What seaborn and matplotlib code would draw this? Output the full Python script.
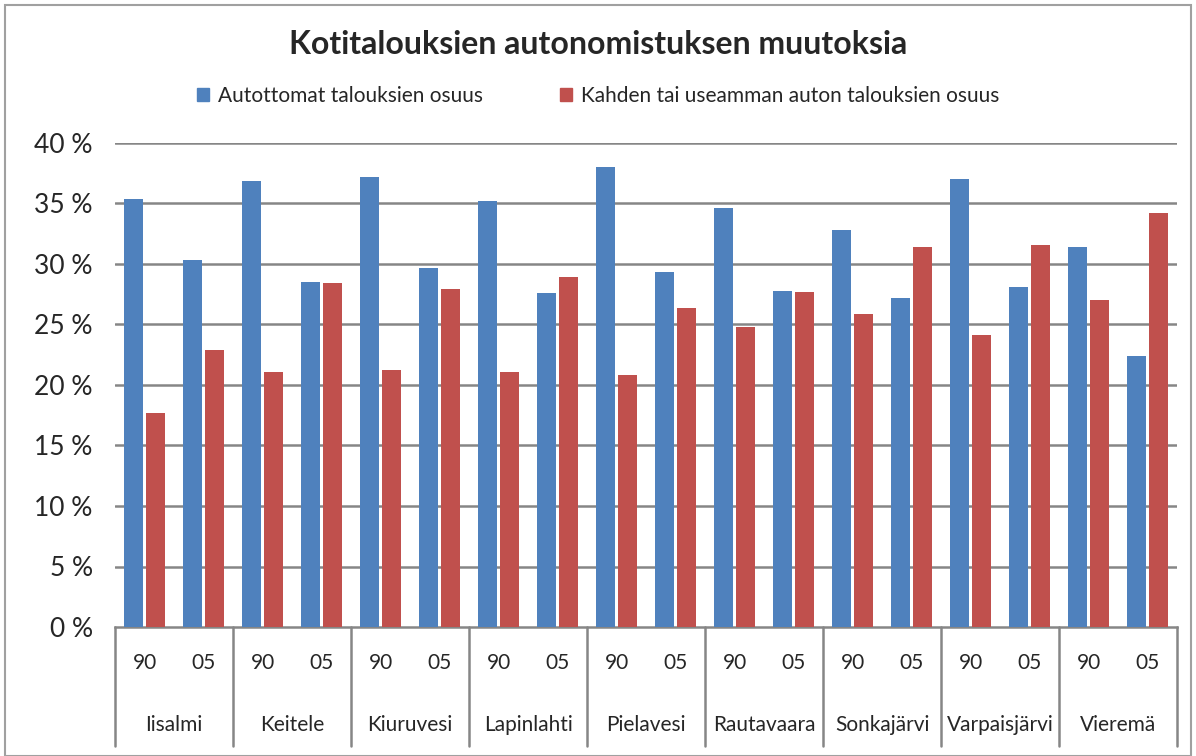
import matplotlib
matplotlib.use('Agg')
import matplotlib.pyplot as plt
import matplotlib.patches as mpatches
import seaborn as sns
import pandas as pd
import numpy as np

# data
kunnat = ['Iisalmi', 'Keitele', 'Kiuruvesi', 'Lapinlahti', 'Pielavesi',
          'Rautavaara', 'Sonkajärvi', 'Varpaisjärvi', 'Vieremä']
vuodet = ['90', '05']
series_names = ['Autottomat talouksien osuus',
                'Kahden tai useamman auton talouksien osuus']
# per municipality: [90, 05]
autottomat = [35.4, 30.3, 36.9, 28.5, 37.2, 29.7, 35.2, 27.6, 38.0,
              29.3, 34.6, 27.8, 32.8, 27.2, 37.0, 28.1, 31.4, 22.4]
kaksi_autoa = [17.7, 22.9, 21.1, 28.4, 21.2, 27.9, 21.1, 28.9, 20.8,
               26.4, 24.8, 27.7, 25.9, 31.4, 24.1, 31.6, 27.0, 34.2]
y_ticks = [0, 5, 10, 15, 20, 25, 30, 35, 40]

BLUE = '#4F81BD'
RED = '#C0504D'
GRID = '#868686'

sns.set_style('white')
plt.rcParams['font.family'] = ['Lato', 'DejaVu Sans']

positions = [f'{k} {v}' for k in kunnat for v in vuodet]
df = pd.DataFrame({
    'pos': positions * 2,
    'series': [series_names[0]] * len(positions) + [series_names[1]] * len(positions),
    'value': autottomat + kaksi_autoa,
})

W, H = 1196, 756
fig = plt.figure(figsize=(W / 100, H / 100), dpi=100)
left, right, top, bottom = 115, 1177, 143, 627
ax = fig.add_axes([left / W, (H - bottom) / H, (right - left) / W, (bottom - top) / H])

sns.barplot(data=df, x='pos', y='value', hue='series', order=positions,
            hue_order=series_names, palette=[BLUE, RED], saturation=1,
            width=0.74, gap=0.1, edgecolor='none', ax=ax, legend=False, zorder=3)

ax.set_xlim(-0.5, len(positions) - 0.5)
ax.set_ylim(0, 40)
ax.set_yticks(y_ticks)
ax.set_yticklabels([f'{t} %' for t in y_ticks], fontsize=19)
ax.tick_params(axis='y', length=0, pad=16)
ax.set_xticks([])
ax.set_xlabel('')
ax.set_ylabel('')
for t in y_ticks[1:]:
    ax.axhline(t, color=GRID, lw=1.8, zorder=1)
for s in ['top', 'right', 'left']:
    ax.spines[s].set_visible(False)
ax.spines['bottom'].set_color(GRID)
ax.spines['bottom'].set_linewidth(1.8)

# hierarchical category axis
tr = ax.get_xaxis_transform()
h_ax = bottom - top
y_sub = -(663 - bottom) / h_ax
y_grp = -(725 - bottom) / h_ax
y_end = -(746 - bottom) / h_ax
for i, k in enumerate(kunnat):
    for j, v in enumerate(vuodet):
        ax.text(2 * i + j, y_sub, v, transform=tr, ha='center', va='center', fontsize=15)
    ax.text(2 * i + 0.5, y_grp, k, transform=tr, ha='center', va='center', fontsize=15)
for b in np.arange(-0.5, len(positions), 2):
    ax.plot([b, b], [0, y_end], transform=tr, color=GRID, lw=1.8, clip_on=False)

fig.text(0.5, 1 - 45 / H, 'Kotitalouksien autonomistuksen muutoksia',
         ha='center', va='center', fontsize=23, fontweight='bold')

handles = [mpatches.Patch(color=BLUE, label=series_names[0]),
           mpatches.Patch(color=RED, label=series_names[1])]
fig.legend(handles=handles, loc='center', bbox_to_anchor=(0.5, 1 - 96 / H), ncol=2,
           frameon=False, fontsize=15, handlelength=0.6, handleheight=0.6,
           handletextpad=0.4, columnspacing=3.7)

# outer chart border
fig.patches.append(mpatches.Rectangle((5 / W, 0), (W - 10) / W, 1 - 5 / H,
                                      transform=fig.transFigure, fill=False,
                                      edgecolor='#A0A0A0', lw=1.5))

plt.savefig('out.png', dpi=100)
plt.close()
